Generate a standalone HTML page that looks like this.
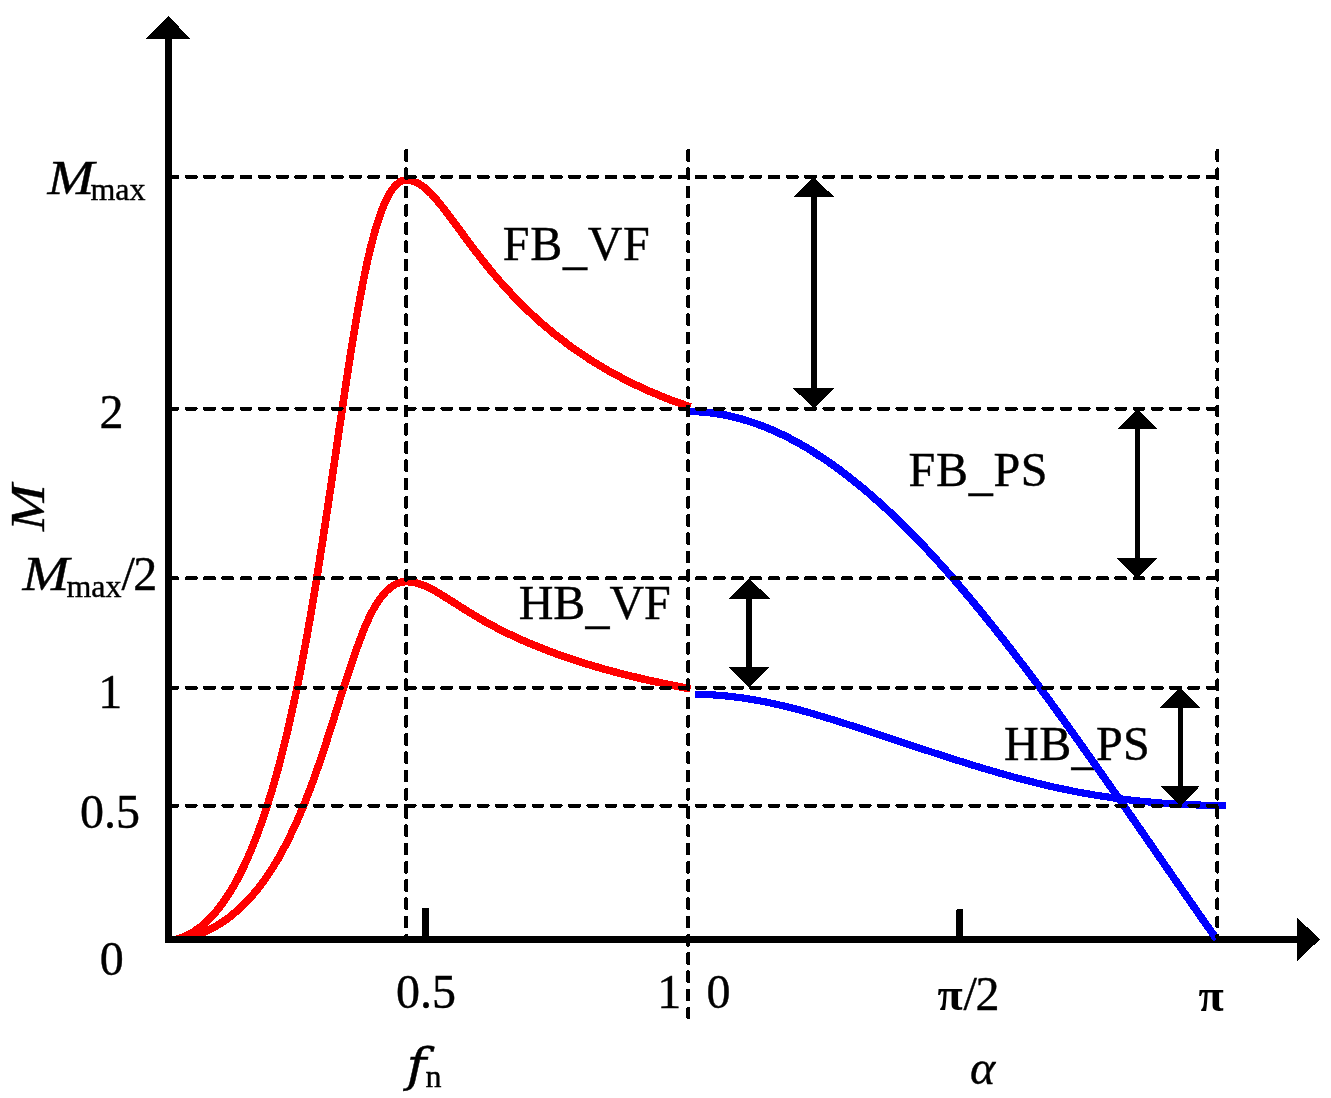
<!DOCTYPE html>
<html lang="en"><head><meta charset="utf-8"><title>Gain curves</title>
<style>
html,body{margin:0;padding:0;background:#fff;}
body{width:1331px;height:1098px;overflow:hidden;}
svg{display:block;}
</style></head><body>
<svg width="1331" height="1098" viewBox="0 0 1331 1098" shape-rendering="crispEdges">
<rect width="1331" height="1098" fill="#fff"/>
<g font-family="'Liberation Serif', 'Times New Roman', serif" font-size="48" fill="#000" stroke="#000" stroke-width="0.4">
<text transform="translate(47.5,193.7) scale(1.167,1)" font-style="italic">M</text>
<text x="90.4" y="199.7" font-size="32">max</text>
<text transform="translate(22.5,590) scale(1.167,1)" font-style="italic">M</text>
<text x="66.4" y="596.5" font-size="32">max</text>
<text x="121.5" y="590">/</text>
<text x="133.3" y="590">2</text>
<text x="99.5" y="428">2</text>
<text x="98.2" y="707.8">1</text>
<text x="80" y="827.8">0.5</text>
<text x="99.7" y="974.7">0</text>
<text transform="translate(44,531) rotate(-90) scale(1.167,1)" font-style="italic">M</text>
<text x="396" y="1008">0.5</text>
<text x="657.3" y="1008">1</text>
<text x="706.5" y="1008">0</text>
<text x="937.6" y="1010.3" font-weight="bold" font-size="46" stroke="none">π</text>
<text x="963.5" y="1010">/</text>
<text x="975.5" y="1010">2</text>
<text x="1198.6" y="1010.8" font-weight="bold" font-size="46" stroke="none">π</text>
<text transform="translate(406.6,1080.7) scale(1.16,1)" font-style="italic" font-family="'DejaVu Serif', 'Liberation Serif', serif" font-size="46.5">f</text>
<text x="425.4" y="1086.9" font-size="32">n</text>
<text x="970" y="1083.5" font-style="italic">α</text>
<text x="502.8" y="260" letter-spacing="0.7">FB<tspan dy="4">_</tspan><tspan dy="-4">VF</tspan></text>
<text x="518.7" y="618.9" letter-spacing="0">HB<tspan dy="4">_</tspan><tspan dy="-4">VF</tspan></text>
<text x="908.6" y="486.1" letter-spacing="0.7">FB<tspan dy="4">_</tspan><tspan dy="-4">PS</tspan></text>
<text x="1004.1" y="759.8" letter-spacing="0.4">HB<tspan dy="4">_</tspan><tspan dy="-4">PS</tspan></text>
</g>
<clipPath id="plot"><rect x="165" y="0" width="1166" height="943"/></clipPath>
<g fill="none" stroke-width="7.6" stroke-linecap="butt" stroke-linejoin="round" clip-path="url(#plot)">
<path d="M168.8 940.8C333.3 921.6 330.4 180 406.5 180C453.5 180 483.5 338.5 690.5 407" stroke="#ff0000"/>
<path d="M168 941C333.2 929.5 332.8 581.6 406 581.6C450 581.6 470.9 648.5 690.5 688.8" stroke="#ff0000"/>
</g>
<g fill="#000" stroke="none">
<rect x="165" y="38" width="7" height="905"/>
<rect x="165" y="936" width="1133" height="7"/>
<polygon points="168.5,16 146,39 190.5,39"/>
<polygon points="1320,939.4 1297,917.5 1297,961"/>
<path d="M422 943V909.6a1.6 1.6 0 0 1 1.6-1.6h3.8a1.6 1.6 0 0 1 1.6 1.6V943z"/>
<path d="M956.2 943V910.6a1.6 1.6 0 0 1 1.6-1.6h3.8a1.6 1.6 0 0 1 1.6 1.6V943z"/>
<g fill="none" stroke-width="7.6">
<path d="M688.5 411.4C875.3 411.4 1046.5 698.5 1216.6 939.2" stroke="#0000ff"/>
<path d="M695 694.3C764.7 694.3 833.4 719.6 897.3 740.8C1014.9 779.7 1095.2 805.5 1226 805.5" stroke="#0000ff" stroke-width="7.2"/>
</g>
<line x1="813.8" y1="196.2" x2="813.8" y2="389.4" stroke="#000" stroke-width="6"/><polygon points="813.8,177.2 793.2,197.2 834.4,197.2"/><polygon points="813.8,408.4 793.2,388.4 834.4,388.4"/>
<line x1="1137.3" y1="428" x2="1137.3" y2="559.3" stroke="#000" stroke-width="5"/><polygon points="1137.3,409 1117.2,429 1157.4,429"/><polygon points="1137.3,578.3 1117.2,558.3 1157.4,558.3"/>
<line x1="749.2" y1="597.6" x2="749.2" y2="668.3" stroke="#000" stroke-width="6"/><polygon points="749.2,578.3 728.7,598.6 769.7,598.6"/><polygon points="749.2,687.6 728.7,667.3 769.7,667.3"/>
<line x1="1180.2" y1="706.9" x2="1180.2" y2="786.7" stroke="#000" stroke-width="5"/><polygon points="1180.2,687.6 1160.1,707.9 1200.3,707.9"/><polygon points="1180.2,806 1160.1,785.7 1200.3,785.7"/>
</g>
<g fill="none" stroke="#000" stroke-width="4" stroke-linecap="round" stroke-dasharray="9 9.25">
<line x1="168.5" y1="176.9" x2="686.5" y2="176.9"/>
<line x1="696.5" y1="176.9" x2="1216" y2="176.9"/>
<line x1="168.5" y1="408.7" x2="686.5" y2="408.7"/>
<line x1="696.5" y1="408.7" x2="1216" y2="408.7"/>
<line x1="168.5" y1="578.2" x2="686.5" y2="578.2"/>
<line x1="696.5" y1="578.2" x2="1216" y2="578.2"/>
<line x1="168.5" y1="687.8" x2="686.5" y2="687.8"/>
<line x1="696.5" y1="687.8" x2="1216" y2="687.8"/>
<line x1="168.5" y1="805.7" x2="686.5" y2="805.7"/>
<line x1="696.5" y1="805.7" x2="1216" y2="805.7"/>
<line x1="406.1" y1="151" x2="406.1" y2="938"/>
<line x1="688.1" y1="151" x2="688.1" y2="1017"/>
<line x1="1217.4" y1="151" x2="1217.4" y2="938"/>
</g>
</svg>
</body></html>
